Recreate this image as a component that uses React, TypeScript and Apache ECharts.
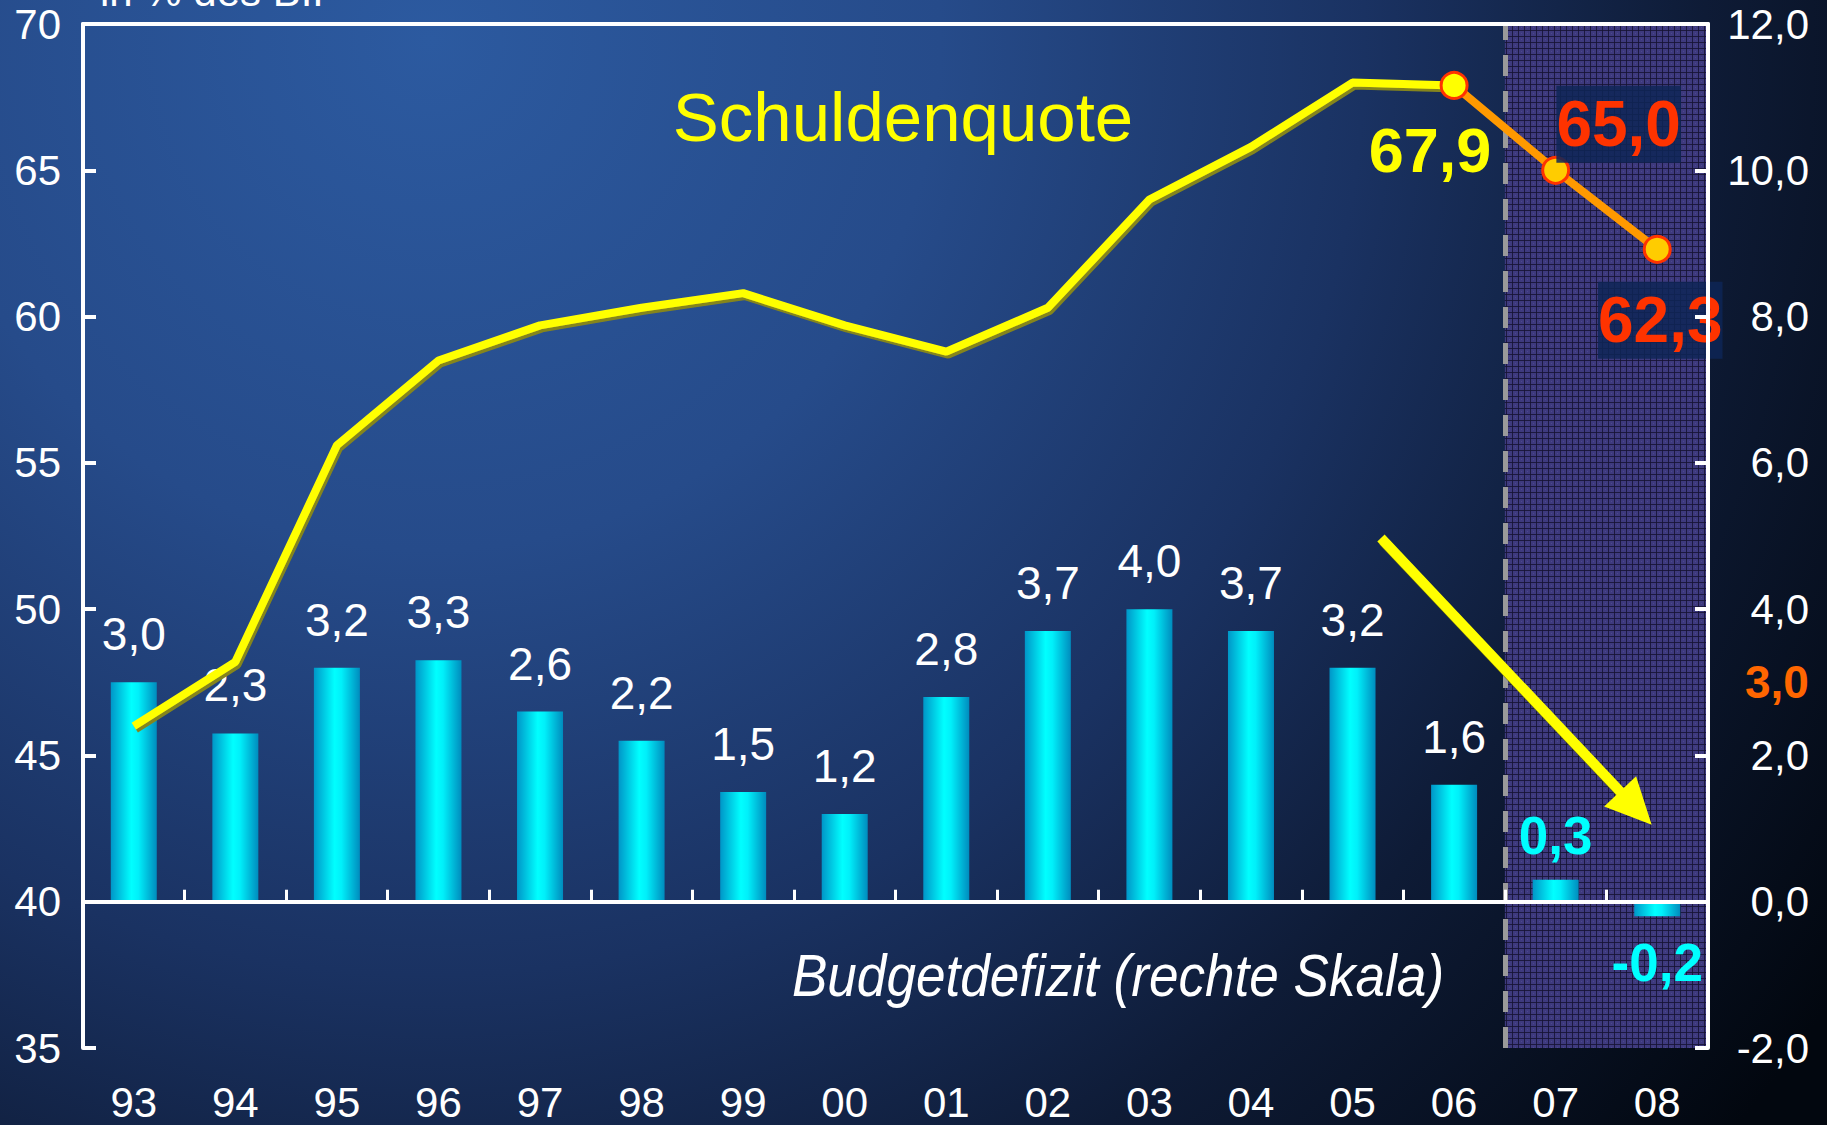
import React, { useEffect, useRef } from 'react';
import * as echarts from 'echarts';

// ---------- data ----------
const years = ['93', '94', '95', '96', '97', '98', '99', '00', '01', '02', '03', '04', '05', '06', '07', '08'];
// Schuldenquote (left axis, in % des BIP)
const debtRatio: (number | null)[] = [46.0, 48.2, 55.6, 58.5, 59.7, 60.3, 60.8, 59.7, 58.8, 60.3, 64.0, 65.8, 68.0, 67.9, null, null];
// forecast part of the debt ratio (orange)
const debtForecast: (number | null)[] = [null, null, null, null, null, null, null, null, null, null, null, null, null, 67.9, 65.0, 62.3];
// Budgetdefizit (right axis)
const deficit: number[] = [3.0, 2.3, 3.2, 3.3, 2.6, 2.2, 1.5, 1.2, 2.8, 3.7, 4.0, 3.7, 3.2, 1.6, 0.3, -0.2];
const forecastStart = 14; // index of '07'
const leftAxis = { min: 35, max: 70, interval: 5 };
const rightAxis = { min: -2, max: 12, interval: 2 };
const debtLimit = 60;
const deficitLimit = 3.0;
// arrow annotation (hidden value x-axis, left y-axis units)
const arrowFrom = [12.78, 52.43];
const arrowTo = [15.29, 43.2];

const FONT = '"Liberation Sans", Arial, sans-serif';
const fmt = (v: number) => v.toFixed(1).replace('.', ',');

function makePattern(): any {
  const c = document.createElement('canvas');
  c.width = 6;
  c.height = 6;
  const ctx = c.getContext('2d');
  if (!ctx) return '#35326a';
  ctx.fillStyle = '#3e3a7e';
  ctx.fillRect(0, 0, 6, 6);
  ctx.fillStyle = 'rgba(22,20,52,0.85)';
  ctx.fillRect(0, 0, 6, 1);
  ctx.fillRect(0, 0, 1, 6);
  ctx.fillStyle = 'rgba(90,84,160,0.5)';
  ctx.fillRect(3, 3, 1, 1);
  return { image: c, repeat: 'repeat' };
}

export default function App() {
  const ref = useRef<HTMLDivElement>(null);

  useEffect(() => {
    if (!ref.current) return;
    const chart = echarts.init(ref.current, null, { renderer: 'svg' });

    const barGradient = new echarts.graphic.LinearGradient(0, 0, 1, 0, [
      { offset: 0, color: '#0096c8' },
      { offset: 0.45, color: '#00ffff' },
      { offset: 0.6, color: '#00f0fa' },
      { offset: 1, color: '#008cbe' },
    ]);

    const barData = deficit.map((v, i) => {
      if (i < forecastStart) return { value: v };
      const neg = v < 0;
      return {
        value: v,
        label: {
          show: true,
          position: neg ? 'bottom' : 'top',
          distance: neg ? 20 : 18,
          color: '#00ffff',
          fontWeight: 'bold',
          fontSize: 53,
          textShadowColor: '#000000',
          textShadowOffsetX: 3,
          textShadowOffsetY: 3,
          textShadowBlur: 0,
        },
      };
    });

    const forecastData = debtForecast.map((v, i) => {
      if (v == null) return null;
      if (i === forecastStart - 1) {
        return {
          value: v,
          itemStyle: { color: '#ffff00' },
          label: {
            show: true,
            position: 'inside',
            offset: [-24, 65],
            color: '#ffff00',
            fontSize: 63,
            fontWeight: 'bold',
            fontFamily: FONT,
            textShadowColor: '#000000',
            textShadowOffsetX: 3,
            textShadowOffsetY: 3,
            textShadowBlur: 0,
          },
        };
      }
      const up = i === forecastStart;
      return {
        value: v,
        label: {
          show: true,
          position: 'inside',
          offset: up ? [63, -46] : [3, 71],
          color: '#ff3300',
          fontSize: 64,
          lineHeight: 66,
          fontWeight: 'bold',
          fontFamily: FONT,
          backgroundColor: 'rgba(14,38,86,0.85)',
          padding: [6, 0, 5, 0],
        },
      };
    });

    const option: any = {
      animation: false,
      backgroundColor: new echarts.graphic.RadialGradient(430, 40, 1700, [
        { offset: 0, color: '#2c5aa0' },
        { offset: 0.3, color: '#264b8a' },
        { offset: 0.55, color: '#1a3262' },
        { offset: 0.75, color: '#0e1b36' },
        { offset: 1, color: '#02070f' },
      ], true),
      textStyle: { fontFamily: FONT },
      grid: { left: 83, right: 119, top: 24, bottom: 77, containLabel: false },
      xAxis: [
        {
          type: 'category',
          data: years,
          boundaryGap: true,
          z: 10,
          axisLine: { show: true, lineStyle: { color: '#ffffff', width: 4 } },
          axisTick: { show: true, inside: true, length: 12, interval: 0, lineStyle: { color: '#ffffff', width: 3 } },
          axisLabel: { color: '#ffffff', fontSize: 42, margin: 33, interval: 0, fontFamily: FONT },
          splitLine: { show: false },
        },
        {
          type: 'value',
          min: 0,
          max: 16,
          position: 'top',
          z: 10,
          axisLine: { show: true, lineStyle: { color: '#ffffff', width: 4 } },
          axisTick: { show: false },
          axisLabel: { show: false },
          splitLine: { show: false },
        },
      ],
      yAxis: [
        {
          type: 'value',
          position: 'left',
          min: leftAxis.min,
          max: leftAxis.max,
          interval: leftAxis.interval,
          z: 10,
          axisLine: { show: true, lineStyle: { color: '#ffffff', width: 4 } },
          axisTick: { show: true, inside: true, length: 13, lineStyle: { color: '#ffffff', width: 4 } },
          axisLabel: { color: '#ffffff', fontSize: 42, margin: 22, fontFamily: FONT },
          splitLine: { show: false },
        },
        {
          type: 'value',
          position: 'right',
          min: rightAxis.min,
          max: rightAxis.max,
          interval: rightAxis.interval,
          z: 10,
          axisLine: { show: true, lineStyle: { color: '#ffffff', width: 4 } },
          axisTick: { show: true, inside: true, length: 13, lineStyle: { color: '#ffffff', width: 4 } },
          axisLabel: {
            color: '#ffffff',
            fontSize: 42,
            margin: 101,
            align: 'right',
            fontFamily: FONT,
            formatter: (v: number) => fmt(v),
          },
          splitLine: { show: false },
        },
      ],
      graphic: [
        {
          type: 'text',
          x: 100,
          y: 12,
          z: 20,
          style: { text: 'in % des BIP', fill: '#ffffff', font: `42px ${FONT}`, textAlign: 'left', textVerticalAlign: 'bottom' },
        },
        {
          type: 'text',
          x: 903,
          y: 117,
          z: 20,
          style: { text: 'Schuldenquote', fill: '#ffff00', font: `69px ${FONT}`, textAlign: 'center', textVerticalAlign: 'middle' },
        },
        {
          type: 'text',
          x: 1118,
          y: 975,
          z: 20,
          scaleX: 0.885,
          style: { text: 'Budgetdefizit (rechte Skala)', fill: '#ffffff', font: `italic 60px ${FONT}`, textAlign: 'center', textVerticalAlign: 'middle' },
        },
      ],
      series: [
        {
          name: 'forecastArea',
          type: 'line',
          xAxisIndex: 1,
          yAxisIndex: 0,
          data: [[0, 35]],
          symbol: 'none',
          silent: true,
          lineStyle: { width: 0 },
          z: 1,
          markArea: {
            silent: true,
            z: 1,
            itemStyle: { color: makePattern(), opacity: 1 },
            data: [[{ xAxis: 14 }, { xAxis: 16 }]],
          },
          markLine: {
            silent: true,
            symbol: 'none',
            z: 3,
            label: { show: false },
            emphasis: { disabled: true },
            data: [
              { xAxis: 14, lineStyle: { color: '#9a9a9a', width: 5, type: [21, 15] } },
              {
                yAxis: debtLimit,
                lineStyle: { color: '#ff6600', width: 7, type: 'solid', shadowColor: '#7a2c00', shadowOffsetY: 2, shadowBlur: 0 },
              },
            ],
          },
        },
        {
          name: 'Budgetdefizit',
          type: 'bar',
          xAxisIndex: 0,
          yAxisIndex: 1,
          data: barData,
          barWidth: 46,
          z: 2,
          itemStyle: { color: barGradient },
          label: {
            show: true,
            position: 'top',
            distance: 25,
            color: '#ffffff',
            fontSize: 46,
            fontFamily: FONT,
            formatter: (p: any) => fmt(p.value),
          },
          markLine: {
            silent: true,
            symbol: 'none',
            z: 4,
            emphasis: { disabled: true },
            data: [
              {
                yAxis: 0,
                lineStyle: { color: '#ffffff', width: 4, type: 'solid' },
                label: { show: false },
              },
              {
                yAxis: deficitLimit,
                lineStyle: { color: '#ff6600', width: 7, type: 'solid', shadowColor: '#7a2c00', shadowOffsetY: 2, shadowBlur: 0 },
                label: {
                  show: true,
                  position: 'end',
                  distance: 37,
                  formatter: () => fmt(deficitLimit),
                  color: '#ff6600',
                  fontWeight: 'bold',
                  fontSize: 46,
                  fontFamily: FONT,
                },
              },
            ],
          },
        },
        {
          name: 'Schuldenquote',
          type: 'line',
          xAxisIndex: 0,
          yAxisIndex: 0,
          data: debtRatio,
          symbol: 'none',
          connectNulls: false,
          z: 6,
          lineStyle: { color: '#ffff00', width: 8, shadowColor: '#85851a', shadowOffsetX: 2, shadowOffsetY: 3, shadowBlur: 0 },
        },
        {
          name: 'Prognose',
          type: 'line',
          xAxisIndex: 0,
          yAxisIndex: 0,
          data: forecastData,
          symbol: 'circle',
          symbolSize: 26,
          showSymbol: true,
          z: 7,
          lineStyle: { color: '#ff9900', width: 8 },
          itemStyle: { color: '#ffcc00', borderColor: '#ff3300', borderWidth: 3 },
          label: { formatter: (p: any) => fmt(p.value) },
        },
        {
          name: 'arrow',
          type: 'line',
          xAxisIndex: 1,
          yAxisIndex: 0,
          data: [[0, 35]],
          symbol: 'none',
          silent: true,
          lineStyle: { width: 0 },
          z: 8,
          markLine: {
            silent: true,
            z: 8,
            symbol: ['none', 'triangle'],
            symbolSize: [44, 46],
            label: { show: false },
            emphasis: { disabled: true },
            lineStyle: { color: '#ffff00', width: 10, type: 'solid', shadowColor: '#6a6a10', shadowOffsetX: 2, shadowOffsetY: 3, shadowBlur: 0 },
            data: [[{ coord: arrowFrom }, { coord: arrowTo }]],
          },
        },
      ],
    };

    chart.setOption(option);
    return () => chart.dispose();
  }, []);

  return <div ref={ref} style={{ position: 'absolute', left: 0, top: 0, width: 1827, height: 1125 }} />;
}
